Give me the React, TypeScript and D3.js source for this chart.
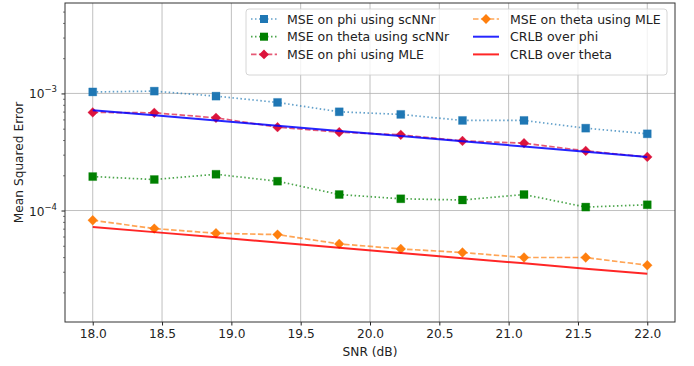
import React from "react";
import * as d3 from "d3";

// SNR values (dB)
const snr = [18.0, 18.444, 18.889, 19.333, 19.778, 20.222, 20.667, 21.111, 21.556, 22.0];

// MSE values
const msePhiScnn = [1.03e-3, 1.046e-3, 0.948e-3, 0.838e-3, 0.697e-3, 0.662e-3, 0.588e-3, 0.588e-3, 0.505e-3, 0.452e-3];
const mseThetaScnn = [1.95e-4, 1.84e-4, 2.04e-4, 1.78e-4, 1.37e-4, 1.26e-4, 1.23e-4, 1.37e-4, 1.07e-4, 1.12e-4];
const msePhiMle = [0.689e-3, 0.683e-3, 0.619e-3, 0.515e-3, 0.467e-3, 0.443e-3, 0.393e-3, 0.376e-3, 0.323e-3, 0.287e-3];
const mseThetaMle = [8.26e-5, 7.01e-5, 6.4e-5, 6.23e-5, 5.19e-5, 4.7e-5, 4.38e-5, 3.97e-5, 3.97e-5, 3.41e-5];
const crlbPhi = [0.72e-3, 0.65e-3, 0.587e-3, 0.53e-3, 0.478e-3, 0.432e-3, 0.39e-3, 0.352e-3, 0.318e-3, 0.287e-3];
const crlbTheta = [7.24e-5, 6.54e-5, 5.9e-5, 5.33e-5, 4.81e-5, 4.34e-5, 3.92e-5, 3.54e-5, 3.19e-5, 2.88e-5];

const xTicks = [18.0, 18.5, 19.0, 19.5, 20.0, 20.5, 21.0, 21.5, 22.0];
const yMajor = [1e-3, 1e-4];
const yLabels = ["−3", "−4"];

type Series = {
    label: string;
    values: number[];
    color: string;
    dash: string | null;
    marker: "square" | "diamond" | null;
};

const series: Series[] = [
    { label: "MSE on phi using scNNr", values: msePhiScnn, color: "#1f77b4", dash: "1.5,2.5", marker: "square" },
    { label: "MSE on theta using scNNr", values: mseThetaScnn, color: "#008000", dash: "1.5,2.5", marker: "square" },
    { label: "MSE on phi using MLE", values: msePhiMle, color: "#dc143c", dash: "5.5,2.4", marker: "diamond" },
    { label: "MSE on theta using MLE", values: mseThetaMle, color: "#ff7f0e", dash: "5.5,2.4", marker: "diamond" },
    { label: "CRLB over phi", values: crlbPhi, color: "#0000ff", dash: null, marker: null },
    { label: "CRLB over theta", values: crlbTheta, color: "#ff0000", dash: null, marker: null },
];

// matplotlib-style markers
const squarePath = "M-4,-4H4V4H-4Z";
const diamondPath = "M0,-4.9L4.9,0L0,4.9L-4.9,0Z";

export default function App() {
    const ref = React.useRef<HTMLDivElement>(null);

    React.useEffect(() => {
        d3.select(ref.current).select("svg").remove();
        drawChart();
    });

    function drawChart() {
        const width = 694;
        const height = 366;
        const left = 65;
        const right = 675;
        const top = 3;
        const bottom = 322;
        const fs = 12.2;
        const font = "DejaVu Sans, sans-serif";

        const svg = d3
            .select(ref.current)
            .append("svg")
            .attr("width", width)
            .attr("height", height)
            .style("display", "block")
            .style("font-family", font);

        svg.append("rect").attr("width", width).attr("height", height).attr("fill", "#fff");

        const x = d3.scaleLinear().domain([17.8, 22.2]).range([left, right]);
        const y = d3.scaleLog().domain([1.117e-5, 5.92e-3]).range([bottom, top]);

        // grid
        const grid = svg.append("g").attr("stroke", "#b0b0b0").attr("stroke-width", 0.8);
        xTicks.forEach((t) => {
            grid.append("line").attr("x1", x(t)).attr("x2", x(t)).attr("y1", top).attr("y2", bottom);
        });
        yMajor.forEach((t) => {
            grid.append("line").attr("x1", left).attr("x2", right).attr("y1", y(t)).attr("y2", y(t));
        });

        // axes
        const xAxis = d3.axisBottom(x).tickValues(xTicks).tickFormat(d3.format(".1f")).tickSize(3.5).tickPadding(3.5);
        const gx = svg.append("g").attr("transform", `translate(0,${bottom})`).call(xAxis);
        gx.select(".domain").remove();
        gx.selectAll("text").attr("font-size", fs).attr("fill", "#222").style("font-family", font);
        gx.selectAll("line").attr("stroke", "#222");

        const minor: number[] = [];
        [1e-5, 1e-4, 1e-3].forEach((d) => {
            for (let k = 2; k <= 9; k++) {
                const v = d * k;
                if (v >= y.domain()[0] && v <= y.domain()[1]) minor.push(v);
            }
        });
        const gy = svg.append("g").attr("transform", `translate(${left},0)`);
        gy.call(d3.axisLeft(y).tickValues(minor).tickFormat(() => "").tickSize(2));
        gy.call((g) => g.select(".domain").remove());
        gy.selectAll("line").attr("stroke", "#222").attr("stroke-width", 0.6);
        const gyMaj = svg.append("g").attr("transform", `translate(${left},0)`);
        gyMaj.call(d3.axisLeft(y).tickValues(yMajor).tickFormat(() => "").tickSize(3.5));
        gyMaj.select(".domain").remove();
        gyMaj.selectAll("line").attr("stroke", "#222");
        yMajor.forEach((t, i) => {
            const tx = svg.append("text")
                .attr("x", left - 8)
                .attr("y", y(t) + 5)
                .attr("text-anchor", "end")
                .attr("font-size", fs)
                .attr("fill", "#222");
            tx.append("tspan").text("10");
            tx.append("tspan").attr("font-size", 8.5).attr("dy", -6).text(yLabels[i]);
        });

        // lines and markers
        const line = d3
            .line<number>()
            .x((_, i) => x(snr[i]))
            .y((d) => y(d));

        series.forEach((s) => {
            svg.append("path")
                .datum(s.values)
                .attr("fill", "none")
                .attr("stroke", s.color)
                .attr("stroke-width", s.marker ? 1.7 : 2)
                .attr("stroke-opacity", s.marker ? 0.7 : 0.85)
                .attr("stroke-dasharray", s.dash)
                .attr("d", line);
            if (s.marker) {
                svg.append("g")
                    .selectAll("path")
                    .data(s.values)
                    .join("path")
                    .attr("transform", (d, i) => `translate(${x(snr[i])},${y(d)})`)
                    .attr("d", s.marker === "square" ? squarePath : diamondPath)
                    .attr("fill", s.color)
                    .attr("stroke", s.color)
                    .attr("stroke-opacity", 0.3)
                    .attr("stroke-width", 1);
            }
        });

        // frame
        svg.append("rect")
            .attr("x", left)
            .attr("y", top)
            .attr("width", right - left)
            .attr("height", bottom - top)
            .attr("fill", "none")
            .attr("stroke", "#333")
            .attr("stroke-width", 1);

        // labels
        svg.append("text")
            .attr("x", (left + right) / 2)
            .attr("y", 356)
            .attr("text-anchor", "middle")
            .attr("font-size", fs)
            .attr("fill", "#222")
            .text("SNR (dB)");
        svg.append("text")
            .attr("transform", `translate(23,${(top + bottom) / 2}) rotate(-90)`)
            .attr("text-anchor", "middle")
            .attr("font-size", fs)
            .attr("fill", "#222")
            .text("Mean Squared Error");

        // legend
        const lg = svg.append("g");
        lg.append("rect")
            .attr("x", 246)
            .attr("y", 9)
            .attr("width", 421)
            .attr("height", 66)
            .attr("rx", 3)
            .attr("fill", "#fff")
            .attr("fill-opacity", 0.8)
            .attr("stroke", "#ccc")
            .attr("stroke-width", 0.8);
        series.forEach((s, i) => {
            const col = Math.floor(i / 3);
            const row = i % 3;
            const hx = col === 0 ? 251 : 473;
            const hy = 19 + row * 17.7;
            lg.append("line")
                .attr("x1", hx)
                .attr("x2", hx + 26)
                .attr("y1", hy)
                .attr("y2", hy)
                .attr("stroke", s.color)
                .attr("stroke-width", s.marker ? 1.7 : 2)
                .attr("stroke-opacity", s.marker ? 0.7 : 0.85)
                .attr("stroke-dasharray", s.dash);
            if (s.marker) {
                lg.append("path")
                    .attr("transform", `translate(${hx + 13},${hy})`)
                    .attr("d", s.marker === "square" ? squarePath : diamondPath)
                    .attr("fill", s.color);
            }
            lg.append("text")
                .attr("x", col === 0 ? 287 : 510)
                .attr("y", hy + 4.5)
                .attr("font-size", 12.5)
                .attr("fill", "#222")
                .text(s.label);
        });
    }

    return <div ref={ref} style={{ position: "absolute", left: 0, top: 0 }} />;
}
